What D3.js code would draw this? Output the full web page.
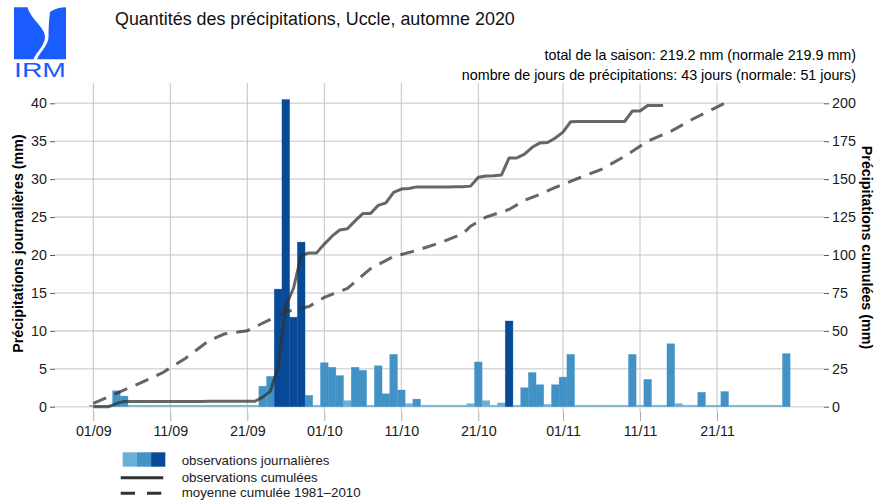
<!DOCTYPE html>
<html>
<head>
<meta charset="utf-8">
<script src="https://cdn.jsdelivr.net/npm/d3@7"></script>
<style>
  body { margin: 0; background: #fff; }
  svg { font-family: "Liberation Sans", Arial, Helvetica, sans-serif; }
</style>
</head>
<body>
<div id="chart-area"></div>
<script>
// daily rainfall Uccle, 01/09/2020 -> 30/11/2020 (mm)
const START = "2020-09-01"
const daily = [
  0, 0, 0, 2.1, 1.4, 0, 0, 0, 0, 0,
  0, 0, 0, 0, 0, 0.1, 0, 0, 0, 0,
  0, 0, 2.7, 4.0, 15.5, 40.5, 11.8, 21.7, 1.5, 0.1,
  5.8, 5.2, 4.1, 0.8, 5.2, 4.8, 0, 5.4, 1.7, 6.9,
  2.2, 0.4, 1.0, 0, 0, 0, 0, 0.1, 0, 0.4,
  5.9, 0.8, 0.1, 0.5, 11.3, 0, 2.5, 4.5, 2.9, 0.3,
  2.9, 3.9, 6.9, 0.1, 0, 0, 0, 0, 0, 0,
  6.9, 0, 3.6, 0.1, 0, 8.3, 0.4, 0.1, 0, 1.9,
  0, 0, 2.0, 0, 0, 0, 0, 0, 0, 0, 7.0
]
// normale cumulée 1981-2010 (jour de saison -> mm)
const normDays = [1, 4, 7, 10, 13, 16, 18, 21, 24, 26, 29, 31, 34, 37, 40, 43, 46, 49, 50, 52, 55, 57, 59, 61, 64, 67, 70, 73, 76, 79, 83]
const normCum  = [2.2, 8.8, 15.4, 22.4, 32, 43.5, 47.9, 50.1, 57.5, 62.6, 66, 72, 78, 91, 99, 103, 108, 114, 119, 125, 130, 136, 140, 144.5, 150.6, 156.5, 165, 175, 181.5, 190, 200]

const xTickLabels = ["01/09", "11/09", "21/09", "01/10", "11/10", "21/10", "01/11", "11/11", "21/11"]
const leftTicks = [0, 5, 10, 15, 20, 25, 30, 35, 40]
const rightTicks = [0, 25, 50, 75, 100, 125, 150, 175, 200]

const legendLabels = ["observations journalières", "observations cumulées", "moyenne cumulée 1981\u20132010"]
const barColors = ["#6baed6", "#4292c6", "#084a98"]

const WIDTH = 874
const HEIGHT = 502
const PANEL = {LEFT: 55, RIGHT: 824, TOP: 83, BOTTOM: 412}

const svg = d3.select("#chart-area").append("svg")
    .attr("width", WIDTH)
    .attr("height", HEIGHT)

const day0 = d3.utcParse("%Y-%m-%d")(START)
const dates = daily.map((d, i) => d3.utcDay.offset(day0, i))
const parseTick = d3.utcParse("%d/%m/%Y")

const x = d3.scaleUtc()
    .domain([dates[0], dates[dates.length - 1]])
    .range([93.3, 786.3])
const dayW = x(dates[1]) - x(dates[0])

const y = d3.scaleLinear().domain([0, 40]).range([406.7, 103.3])
const y2 = d3.scaleLinear().domain([0, 200]).range([406.7, 103.3])

const color = v => v < 1 ? barColors[0] : (v < 10 ? barColors[1] : barColors[2])

// grid
const grid = svg.append("g")
grid.selectAll("line.h").data(leftTicks).enter().append("line")
    .attr("x1", PANEL.LEFT).attr("x2", PANEL.RIGHT)
    .attr("y1", d => y(d)).attr("y2", d => y(d))
    .attr("stroke", "#d9d9d9").attr("stroke-width", 1.6)

const xTicks = xTickLabels.map(l => parseTick(l + "/2020"))
grid.selectAll("line.v").data(xTicks).enter().append("line")
    .attr("x1", d => x(d)).attr("x2", d => x(d))
    .attr("y1", PANEL.TOP).attr("y2", PANEL.BOTTOM)
    .attr("stroke", "#c4c4c4").attr("stroke-width", 1)

// bars
svg.append("g").selectAll("rect")
    .data(daily)
    .enter().append("rect")
    .attr("x", (d, i) => x(dates[i]) - dayW / 2)
    .attr("width", dayW)
    .attr("y", d => Math.min(y(d), y(0) - 1.5))
    .attr("height", d => Math.max(y(0) - y(d), 1.5))
    .attr("fill", d => color(d))
    .attr("stroke", d => color(d))
    .attr("stroke-opacity", 0.5)
    .attr("stroke-width", 0.6)

// cumulative lines
const cum = d3.cumsum(daily)
const obsLine = d3.line()
    .defined(d => d <= 200)
    .x((d, i) => x(dates[i]))
    .y(d => y2(d))

svg.append("path")
    .attr("d", obsLine(cum))
    .attr("fill", "none")
    .attr("stroke", "#333")
    .attr("stroke-opacity", 0.75)
    .attr("stroke-width", 3)
    .attr("stroke-linejoin", "round")

const normLine = d3.line()
    .x((d, i) => x(dates[normDays[i] - 1]))
    .y(d => y2(d))

svg.append("path")
    .attr("d", normLine(normCum))
    .attr("fill", "none")
    .attr("stroke", "#333")
    .attr("stroke-opacity", 0.75)
    .attr("stroke-width", 3)
    .attr("stroke-dasharray", "14,9")

// axes
const leftAxis = svg.append("g")
    .attr("transform", `translate(${PANEL.LEFT}, 0)`)
    .call(d3.axisLeft(y).tickValues(leftTicks).tickSize(5).tickPadding(3))
const rightAxis = svg.append("g")
    .attr("transform", `translate(${PANEL.RIGHT}, 0)`)
    .call(d3.axisRight(y2).tickValues(rightTicks).tickSize(5).tickPadding(3))
const bottomAxis = svg.append("g")
    .attr("transform", `translate(0, ${PANEL.BOTTOM})`)
    .call(d3.axisBottom(x).tickValues(xTicks).tickFormat(d3.utcFormat("%d/%m")).tickSize(9).tickPadding(5))

;[leftAxis, rightAxis, bottomAxis].forEach(a => {
    a.select(".domain").remove()
    a.selectAll("text").attr("font-size", "14.3px").attr("fill", "#1a1a1a")
        .attr("font-family", "Liberation Sans, Arial, sans-serif")
})
leftAxis.selectAll("line").attr("stroke", "#555")
rightAxis.selectAll("line").attr("stroke", "#555")
bottomAxis.selectAll("line").attr("stroke", "#aaa")

// axis titles
const midY = (PANEL.TOP + PANEL.BOTTOM) / 2
svg.append("text")
    .attr("transform", `translate(22.5, ${midY - 4}) rotate(-90)`)
    .attr("text-anchor", "middle")
    .attr("font-size", "14.3px")
    .attr("font-weight", "bold")
    .text("Précipitations journalières (mm)")
svg.append("text")
    .attr("transform", `translate(862, ${midY}) rotate(90)`)
    .attr("text-anchor", "middle")
    .attr("font-size", "14.3px")
    .attr("font-weight", "bold")
    .text("Précipitations cumulées (mm)")

// titles
svg.append("text")
    .attr("x", 115).attr("y", 25)
    .attr("font-size", "17.9px")
    .attr("fill", "#111")
    .text("Quantités des précipitations, Uccle, automne 2020")
svg.append("text")
    .attr("x", 856).attr("y", 60)
    .attr("text-anchor", "end")
    .attr("font-size", "14.3px")
    .text("total de la saison: 219.2 mm (normale 219.9 mm)")
svg.append("text")
    .attr("x", 856).attr("y", 79.5)
    .attr("text-anchor", "end")
    .attr("font-size", "14.3px")
    .text("nombre de jours de précipitations: 43 jours (normale: 51 jours)")

// logo
const logo = svg.append("g")
logo.append("path")
    .attr("d", "M14,7.3 L27.5,7.3 C31,20 45,27 45,37 C45,45 36.5,52 33.5,59.3 L14,59.3 Z")
    .attr("fill", "#1a5cff")
logo.append("path")
    .attr("d", "M50,12 C54,9 60,7.3 66,7.3 L66,59.3 L37,59.3 C40,52 48.5,45 48.5,37 C48.5,28 49,20 50,12 Z")
    .attr("fill", "#1a5cff")
logo.append("text")
    .attr("x", 14).attr("y", 77)
    .attr("font-size", "21px")
    .attr("textLength", 52)
    .attr("lengthAdjust", "spacingAndGlyphs")
    .attr("fill", "#1a5cff")
    .text("IRM")

// legend
const lg = svg.append("g")
lg.selectAll("rect").data(barColors).enter().append("rect")
    .attr("x", (d, i) => 122.7 + i * 14.2)
    .attr("y", 452.3)
    .attr("width", 14.2)
    .attr("height", 14.4)
    .attr("fill", d => d)
lg.append("line")
    .attr("x1", 120.7).attr("x2", 163.3).attr("y1", 477.7).attr("y2", 477.7)
    .attr("stroke", "#333").attr("stroke-width", 3)
lg.append("line")
    .attr("x1", 120.7).attr("x2", 163.3).attr("y1", 493.3).attr("y2", 493.3)
    .attr("stroke", "#333").attr("stroke-width", 3)
    .attr("stroke-dasharray", "14.3,12")
lg.selectAll("text").data(legendLabels).enter().append("text")
    .attr("x", 181.7)
    .attr("y", (d, i) => [465, 481.7, 497.3][i])
    .attr("font-size", "13.3px")
    .attr("fill", "#1a1a1a")
    .text(d => d)
</script>
</body>
</html>
